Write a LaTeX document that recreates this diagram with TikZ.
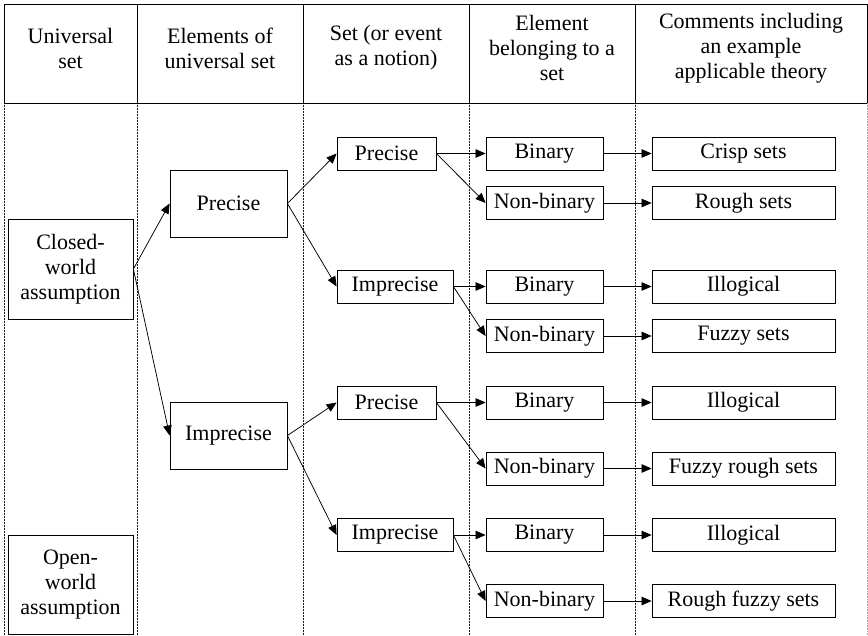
\documentclass[tikz,border=0pt]{standalone}
\usepackage{fontspec}
\setmainfont{Liberation Serif}
\usetikzlibrary{arrows.meta}
\begin{document}
\begin{tikzpicture}[x=1pt,y=-1pt,
  txt/.style={font=\fontsize{22}{25}\selectfont, align=center, inner sep=0pt},
  box/.style={txt, draw, line width=0.8pt, minimum height=33pt},
  cbox/.style={box, minimum width=117pt},
  tbox/.style={box, minimum width=183pt},
  arr/.style={-{Triangle[length=10pt,width=8.5pt]}, line width=0.75pt},
  rule/.style={line width=0.8pt},
  sep/.style={line width=0.7pt, dash pattern=on 0.8pt off 0.7pt, black!90},
  faint/.style={line width=0.6pt, dash pattern=on 0.8pt off 0.8pt, black!35}]
\useasboundingbox (0,0) rectangle (868,635);

% table frame: header row
\draw[rule] (4,4) -- (867,4);
\draw[rule] (4,103) -- (867,103);
\foreach \x in {4,137,303,469,635,867} \draw[rule] (\x,4) -- (\x,103);
% column separators in the body
\foreach \x in {4,137,303,469,635} \draw[sep] (\x,103) -- (\x,635);
\draw[faint] (867,103) -- (867,635);

% column headings
\node[txt] (h1) at (70.5,48) {Universal\\set};
\node[txt] (h2) at (220,48) {Elements of\\universal set};
\node[txt] (h3) at (386,48) {Set (or event\\as a notion)};
\node[txt] (h4) at (552,48) {Element\\belonging to a\\set};
\node[txt] (h5) at (751,48) {Comments including\\an example\\applicable theory};

% universal set
\node[box, minimum width=125pt, minimum height=100pt] (cw) at (70.5,269) {Closed-\\world\\assumption};
\node[box, minimum width=125pt, minimum height=99pt] (ow) at (70.5,584.5) {Open-\\world\\assumption};

% elements of the universal set
\node[box, minimum width=117pt, minimum height=67pt] (p1) at (228.5,203.5) {Precise};
\node[box, minimum width=117pt, minimum height=67pt] (i1) at (228.5,435.5) {Imprecise};

% sets
\node[box, minimum width=99pt] (pp) at (386.5,153.5) {Precise};
\node[box, minimum width=116pt] (pi) at (395,286.5) {Imprecise};
\node[box, minimum width=99pt] (ip) at (386.5,402.5) {Precise};
\node[box, minimum width=116pt] (ii) at (395,535) {Imprecise};

% membership of elements
\node[cbox] (b1) at (544.5,153.5) {Binary};
\node[cbox] (n1) at (544.5,203) {Non-binary};
\node[cbox] (b2) at (544.5,286.5) {Binary};
\node[cbox] (n2) at (544.5,336) {Non-binary};
\node[cbox] (b3) at (544.5,402.5) {Binary};
\node[cbox] (n3) at (544.5,468.5) {Non-binary};
\node[cbox] (b4) at (544.5,535) {Binary};
\node[cbox] (n4) at (544.5,601) {Non-binary};

% applicable theories
\node[tbox] (t1) at (743.5,153.5) {Crisp sets};
\node[tbox] (t2) at (743.5,203) {Rough sets};
\node[tbox] (t3) at (743.5,286.5) {Illogical};
\node[tbox] (t4) at (743.5,336) {Fuzzy sets};
\node[tbox] (t5) at (743.5,402.5) {Illogical};
\node[tbox] (t6) at (743.5,468.5) {Fuzzy rough sets};
\node[tbox] (t7) at (743.5,535) {Illogical};
\node[tbox] (t8) at (743.5,601) {Rough fuzzy sets};

% connectors
\draw[arr] (cw.east) -- (p1.west);
\draw[arr] (cw.east) -- (i1.west);
\draw[arr] (p1.east) -- (pp.west);
\draw[arr] (p1.east) -- (pi.west);
\draw[arr] (i1.east) -- (ip.west);
\draw[arr] (i1.east) -- (ii.west);
\foreach \s/\b/\n in {pp/b1/n1, pi/b2/n2, ip/b3/n3, ii/b4/n4} {
  \draw[arr] (\s.east) -- (\b.west);
  \draw[arr] (\s.east) -- (\n.west);
}
\foreach \a/\t in {b1/t1, n1/t2, b2/t3, n2/t4, b3/t5, n3/t6, b4/t7, n4/t8}
  \draw[arr] (\a.east) -- (\t.west);
\end{tikzpicture}
\end{document}
